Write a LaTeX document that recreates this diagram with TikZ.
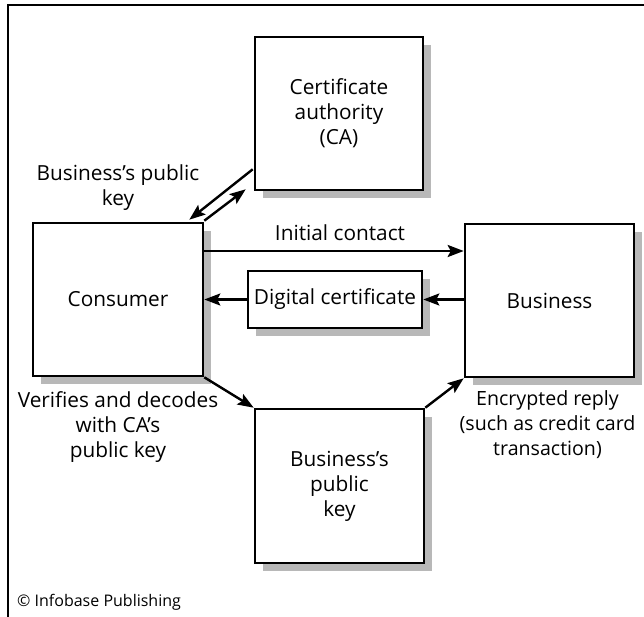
\documentclass[tikz,border=0pt]{standalone}
\usepackage{fontspec}
\setmainfont{Open Sans}
\usetikzlibrary{arrows.meta,calc,shadows}
\begin{document}
\begin{tikzpicture}[x=1bp,y=-1bp,
  box/.style={draw=black,line width=2.6bp,fill=white,inner sep=0pt,align=center,
    font=\fontsize{20.8bp}{25bp}\selectfont,
    drop shadow={shadow xshift=8bp,shadow yshift=-8bp,fill=black!28,opacity=1}},
  conn/.style={line width=2.4bp,-{Stealth[length=16bp,width=12bp,inset=3bp]}},
  lbl/.style={align=center,inner sep=0pt,font=\fontsize{20.8bp}{25bp}\selectfont}]
\useasboundingbox (0,0) rectangle (644,617);
\draw[line width=2bp] (644,5) -- (8,5) -- (8,617);
\node[box,minimum width=168bp,minimum height=153bp] (ca) at (339,113.5) {Certificate\\authority\\(CA)};
\node[box,minimum width=170bp,minimum height=153bp] (cons) at (118,299.5) {Consumer};
\node[box,minimum width=169bp,minimum height=153bp] (bus) at (549.5,300.5) {Business};
\node[box,minimum width=174bp,minimum height=57bp] (dc) at (335,299.5) {Digital certificate};
\node[box,minimum width=169bp,minimum height=154bp] (bk) at (339.5,486) {Business's\\public\\key};
% connectors
\draw[conn] ($(ca.south west)+(-1,-22)$) -- ($(cons.north east)+(-15,-2)$);
\draw[conn] ($(cons.north east)+(0,-1)$) -- ($(ca.south west)+(-8,-2)$);
\draw[conn] (cons.east |- 0,251) -- (bus.west |- 0,251);
\draw[conn] (bus.west |- dc) -- (dc.east);
\draw[conn] (dc.west) -- (cons.east |- dc);
\draw[conn] (cons.south east) -- (bk.north west);
\draw[conn] (bk.north east) -- (bus.south west);
% labels
\node[lbl] (l1) at (118,188) {Business's public\\key};
\node[lbl] (l2) at (340,233) {Initial contact};
\node[lbl] (l3) at (118,427) {Verifies and decodes\\with CA's\\public key};
\node[lbl,font=\fontsize{19.6bp}{25bp}\selectfont] (l4) at (547.5,425) {Encrypted reply\\(such as credit card\\transaction)};
\node[anchor=west,inner sep=0pt,font=\fontsize{16bp}{19bp}\selectfont] (cp) at (17,602) {© Infobase Publishing};
\end{tikzpicture}
\end{document}
